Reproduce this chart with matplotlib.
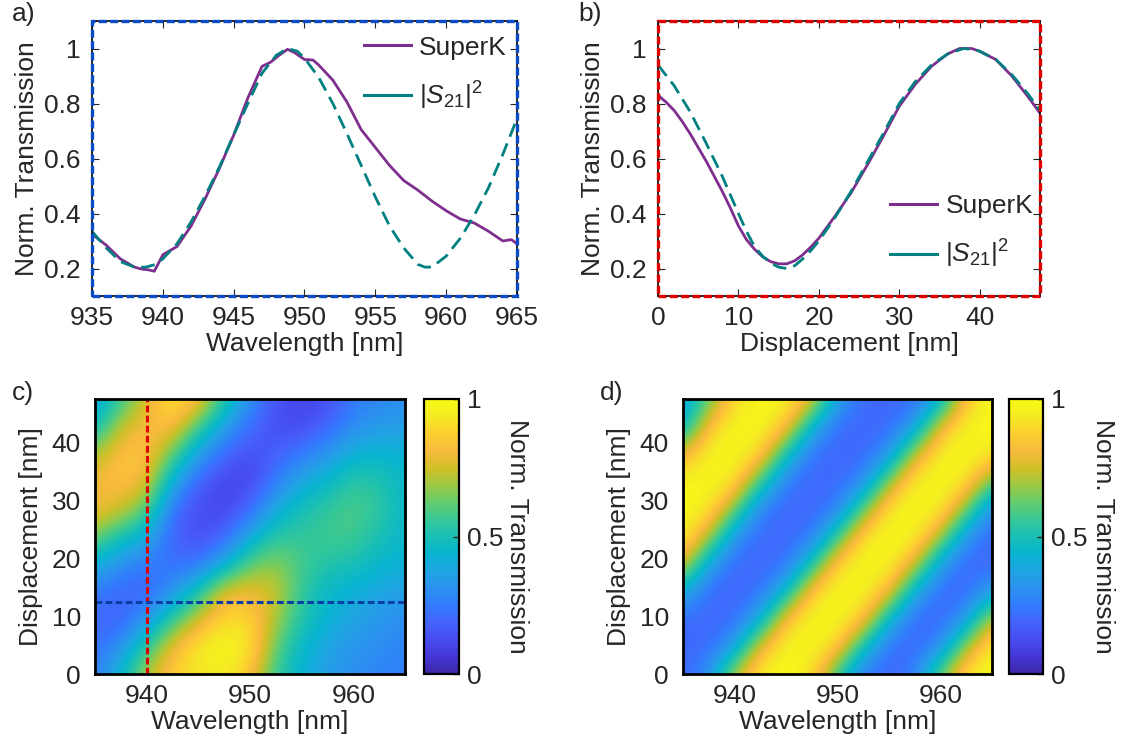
import numpy as np
import matplotlib
matplotlib.use("Agg")
import matplotlib.pyplot as plt
from matplotlib.colors import LinearSegmentedColormap
from matplotlib.lines import Line2D
from matplotlib.patches import Rectangle

# --- line cuts -------------------------------------------------------------
# a) wavelength sweep at fixed displacement
wl_superk = [935, 936, 937, 938, 938.5, 939, 939.4, 940, 941, 942, 943, 944, 945, 946,
             947, 947.6, 948.2, 948.8, 949.3, 950, 950.6, 951, 952, 953, 954, 955,
             956, 957, 958, 959, 960, 961, 962, 963, 964, 964.6, 965]
tr_superk_wl = [0.325, 0.285, 0.235, 0.205, 0.198, 0.195, 0.19, 0.25, 0.28, 0.355, 0.455,
                0.565, 0.685, 0.82, 0.935, 0.95, 0.975, 0.997, 0.985, 0.96, 0.958, 0.94,
                0.885, 0.805, 0.705, 0.64, 0.575, 0.52, 0.485, 0.445, 0.41, 0.38, 0.365,
                0.335, 0.30, 0.305, 0.29]
wl_s21 = [935, 936, 937, 938, 938.8, 939.5, 940, 941, 942, 943, 944, 945, 946, 947, 948,
          948.8, 949.5, 950, 951, 952, 953, 954, 955, 956, 957, 958, 958.5, 959, 960,
          961, 962, 963, 964, 965]
tr_s21_wl = [0.335, 0.275, 0.225, 0.205, 0.205, 0.215, 0.235, 0.29, 0.37, 0.465, 0.57,
             0.685, 0.80, 0.91, 0.975, 1.0, 0.99, 0.965, 0.895, 0.80, 0.69, 0.575, 0.46,
             0.355, 0.275, 0.215, 0.205, 0.205, 0.245, 0.31, 0.395, 0.495, 0.615, 0.745]

# b) displacement sweep at fixed wavelength
d_superk = [0, 1, 2, 3, 4, 5, 6, 7, 8, 9, 10, 11, 12, 13, 14, 15, 16, 17, 18, 19, 20,
            22, 24, 26, 28, 30, 32, 34, 36, 37.5, 39, 40, 42, 44, 46, 47.5]
tr_superk_d = [0.83, 0.805, 0.775, 0.735, 0.69, 0.64, 0.59, 0.535, 0.48, 0.42, 0.355,
               0.305, 0.27, 0.243, 0.225, 0.217, 0.217, 0.228, 0.25, 0.278, 0.31, 0.39,
               0.475, 0.575, 0.68, 0.79, 0.87, 0.935, 0.98, 1.0, 1.0, 0.99, 0.96, 0.90,
               0.825, 0.765]
d_s21 = [0, 2, 4, 6, 8, 10, 11, 12, 13, 14, 15, 16, 17, 18, 19, 20, 22, 24, 26, 28, 30,
         32, 34, 36, 38, 39.5, 40, 42, 44, 46, 47.5]
tr_s21_d = [0.94, 0.865, 0.77, 0.655, 0.535, 0.40, 0.335, 0.28, 0.245, 0.22, 0.205, 0.20,
            0.21, 0.235, 0.265, 0.30, 0.385, 0.48, 0.585, 0.69, 0.80, 0.88, 0.94, 0.98,
            1.0, 0.995, 0.99, 0.96, 0.905, 0.835, 0.775]

# cut positions marked in the measured map
cut_wavelength = 940.0
cut_displacement = 12.5

# --- maps (rows: displacement, columns: wavelength) ---------------------------
map_wl = [935, 937.5, 940, 942.5, 945, 947.5, 950, 952.5, 955, 957.5, 960, 962.5, 965]
map_disp = [0, 4.75, 9.5, 14.25, 19, 23.75, 28.5, 33.25, 38, 42.75, 47.5]

map_measured = [
    [0.25, 0.45, 0.72, 0.88, 0.93, 0.95, 0.85, 0.55, 0.42, 0.35, 0.30, 0.28, 0.26],
    [0.22, 0.30, 0.55, 0.80, 0.95, 1.00, 0.95, 0.62, 0.45, 0.37, 0.33, 0.30, 0.27],
    [0.20, 0.18, 0.32, 0.55, 0.75, 0.90, 0.90, 0.70, 0.52, 0.43, 0.37, 0.33, 0.30],
    [0.25, 0.20, 0.18, 0.32, 0.50, 0.80, 0.80, 0.75, 0.55, 0.45, 0.42, 0.38, 0.35],
    [0.42, 0.30, 0.25, 0.22, 0.22, 0.40, 0.62, 0.68, 0.58, 0.52, 0.50, 0.45, 0.42],
    [0.65, 0.50, 0.40, 0.18, 0.13, 0.18, 0.40, 0.55, 0.55, 0.58, 0.58, 0.50, 0.45],
    [0.82, 0.75, 0.62, 0.22, 0.12, 0.10, 0.20, 0.40, 0.50, 0.55, 0.60, 0.55, 0.45],
    [0.80, 0.85, 0.80, 0.40, 0.18, 0.10, 0.10, 0.25, 0.40, 0.45, 0.55, 0.52, 0.45],
    [0.70, 0.85, 0.85, 0.62, 0.35, 0.20, 0.12, 0.18, 0.25, 0.33, 0.42, 0.45, 0.42],
    [0.45, 0.75, 0.82, 0.85, 0.58, 0.35, 0.22, 0.12, 0.12, 0.20, 0.30, 0.35, 0.35],
    [0.35, 0.55, 0.75, 0.95, 0.85, 0.55, 0.30, 0.15, 0.10, 0.12, 0.25, 0.28, 0.30],
]

map_model = [
    [0.20, 0.30, 0.74, 0.97, 1.00, 0.93, 0.54, 0.22, 0.20, 0.25, 0.64, 0.95, 1.00],
    [0.20, 0.20, 0.34, 0.80, 0.98, 0.99, 0.90, 0.48, 0.21, 0.20, 0.28, 0.70, 0.97],
    [0.21, 0.20, 0.20, 0.39, 0.85, 0.99, 0.99, 0.88, 0.43, 0.20, 0.20, 0.32, 0.76],
    [0.40, 0.20, 0.20, 0.21, 0.44, 0.88, 0.99, 0.98, 0.84, 0.38, 0.20, 0.20, 0.36],
    [0.81, 0.35, 0.20, 0.20, 0.21, 0.50, 0.91, 0.99, 0.98, 0.78, 0.33, 0.20, 0.20],
    [0.97, 0.73, 0.30, 0.20, 0.20, 0.22, 0.56, 0.93, 1.00, 0.97, 0.72, 0.29, 0.20],
    [1.00, 0.95, 0.65, 0.25, 0.20, 0.20, 0.24, 0.62, 0.95, 1.00, 0.96, 0.66, 0.26],
    [0.97, 1.00, 0.94, 0.57, 0.23, 0.20, 0.20, 0.27, 0.68, 0.96, 1.00, 0.94, 0.60],
    [0.79, 0.98, 0.99, 0.91, 0.49, 0.21, 0.20, 0.20, 0.30, 0.74, 0.97, 1.00, 0.93],
    [0.40, 0.86, 0.99, 0.99, 0.87, 0.42, 0.20, 0.20, 0.20, 0.34, 0.80, 0.98, 0.99],
    [0.35, 0.60, 0.90, 0.99, 0.98, 0.82, 0.36, 0.20, 0.20, 0.20, 0.39, 0.85, 0.99],
]

# parula-like colour map
parula = LinearSegmentedColormap.from_list("parula", [
    (0.2422, 0.1504, 0.6603), (0.2706, 0.2147, 0.8364), (0.2813, 0.3006, 0.9414),
    (0.2699, 0.3892, 0.9906), (0.1963, 0.4847, 0.9892), (0.1687, 0.5703, 0.9359),
    (0.1248, 0.6459, 0.8883), (0.0297, 0.7082, 0.8163), (0.0964, 0.7500, 0.7120),
    (0.2161, 0.7843, 0.5923), (0.3909, 0.8029, 0.4354), (0.6174, 0.7876, 0.2612),
    (0.8203, 0.7498, 0.1535), (0.9728, 0.7298, 0.2394), (0.9892, 0.8136, 0.1885),
    (0.9597, 0.9135, 0.1423), (0.9769, 0.9839, 0.0805)])

PURPLE = "#7E2F8E"
TEAL = "#008080"
FRAME_BLUE = "#0B4BC8"
FRAME_RED = "#E00000"
TXT = "#262626"
D_MAX = 47.5

plt.rcParams["font.family"] = ["Liberation Sans", "DejaVu Sans"]
plt.rcParams["font.size"] = 19
plt.rcParams["mathtext.fontset"] = "custom"
plt.rcParams["mathtext.rm"] = "Liberation Sans"
plt.rcParams["mathtext.it"] = "Liberation Sans:italic"
plt.rcParams["text.color"] = TXT
plt.rcParams["axes.labelcolor"] = TXT
plt.rcParams["xtick.color"] = TXT
plt.rcParams["ytick.color"] = TXT

W, H = 1130, 744
fig = plt.figure(figsize=(W / 100, H / 100), dpi=100)


def box(x0, y0, x1, y1):
    # pixel box (top-left origin) -> figure fraction rectangle
    return [x0 / W, 1 - y1 / H, (x1 - x0) / W, (y1 - y0) / H]


def line_axes(ax, frame_color):
    ax.tick_params(direction="in", length=5, width=0.8, top=True, right=True, pad=7)
    ax.tick_params(axis="y", pad=8)
    for s in ax.spines.values():
        s.set_linewidth(1.2)
    ax.set_ylim(0.1, 1.1)
    ax.set_yticks([0.2, 0.4, 0.6, 0.8, 1.0])
    ax.set_yticklabels(["0.2", "0.4", "0.6", "0.8", "1"])
    ax.set_ylabel("Norm. Transmission", labelpad=4)
    ax.add_patch(Rectangle((0, 0), 1, 1, transform=ax.transAxes, fill=False,
                           ec=frame_color, lw=2.4, ls=(0, (2.4, 1.0)),
                           clip_on=False, zorder=5))


handles = [Line2D([], [], color=PURPLE, lw=2.2), Line2D([], [], color=TEAL, lw=2.2)]
labels = ["SuperK", r"$|S_{\mathit{21}}|^2$"]
legend_kw = dict(frameon=False, handlelength=1.8, handletextpad=0.3,
                 labelspacing=0.75, borderaxespad=0.15)

# a) transmission vs wavelength
ax_a = fig.add_axes(box(92, 21, 517, 296))
ax_a.plot(wl_superk, tr_superk_wl, color=PURPLE, lw=2.0)
ax_a.plot(wl_s21, tr_s21_wl, color=TEAL, lw=2.0, ls=(0, (5, 2.6)))
ax_a.set_xlim(935, 965)
ax_a.set_xticks(np.arange(935, 966, 5))
ax_a.set_xlabel("Wavelength [nm]", labelpad=2)
line_axes(ax_a, FRAME_BLUE)
ax_a.legend(handles, labels, loc="upper right", bbox_to_anchor=(1.01, 1.0), **legend_kw)

# b) transmission vs displacement
ax_b = fig.add_axes(box(658, 21, 1040, 296))
ax_b.plot(d_superk, tr_superk_d, color=PURPLE, lw=2.0)
ax_b.plot(d_s21, tr_s21_d, color=TEAL, lw=2.0, ls=(0, (5, 2.6)))
ax_b.set_xlim(0, D_MAX)
ax_b.set_xticks([0, 10, 20, 30, 40])
ax_b.set_xlabel("Displacement [nm]", labelpad=2)
line_axes(ax_b, FRAME_RED)
ax_b.legend(handles, labels, loc="lower right", bbox_to_anchor=(1.02, 0.04), **legend_kw)


def map_axes(rect, cbar_rect, grid, label_x):
    ax = fig.add_axes(box(*rect))
    dwl = map_wl[1] - map_wl[0]
    dd = map_disp[1] - map_disp[0]
    ext = [map_wl[0] - dwl / 2, map_wl[-1] + dwl / 2,
           map_disp[0] - dd / 2, map_disp[-1] + dd / 2]
    im = ax.imshow(np.array(grid), origin="lower", extent=ext, aspect="auto",
                   interpolation="bicubic", cmap=parula, vmin=0, vmax=1, zorder=1)
    ax.set_axisbelow(True)
    ax.set_xlim(935, 965)
    ax.set_ylim(0, D_MAX)
    ax.set_xticks([940, 950, 960])
    ax.set_yticks([0, 10, 20, 30, 40])
    ax.tick_params(direction="in", length=5, width=0.8, pad=7)
    ax.tick_params(axis="y", pad=10)
    for s in ax.spines.values():
        s.set_linewidth(2.0)
        s.set_zorder(4)
    ax.set_xlabel("Wavelength [nm]", labelpad=2)
    ax.set_ylabel("Displacement [nm]", labelpad=6)

    cax = fig.add_axes(box(*cbar_rect))
    cb = fig.colorbar(im, cax=cax, ticks=[0, 0.5, 1])
    cb.ax.set_yticklabels(["0", "0.5", "1"])
    cb.ax.tick_params(direction="in", length=4, width=1.0, pad=6)
    cb.outline.set_linewidth(1.6)
    fig.text(label_x / W, 1 - 536 / H, "Norm. Transmission", rotation=270,
             ha="center", va="center")
    return ax


# c) measured map with the two cut lines
ax_c = map_axes((95, 399, 405, 674), (424, 399, 459, 674), map_measured, 517)
ax_c.axvline(cut_wavelength, color=FRAME_RED, lw=2.2, ls=(0, (2.2, 1.1)), zorder=3)
ax_c.axhline(cut_displacement, color="#0A3FA8", lw=2.2, ls=(0, (2.2, 1.1)), zorder=3)

# d) |S21|^2 model map
ax_d = map_axes((683, 399, 992, 674), (1009, 399, 1043, 674), map_model, 1103)

for txt, x, y in [("a)", 12, 14), ("b)", 578, 14), ("c)", 12, 393), ("d)", 600, 393)]:
    fig.text(x / W, 1 - y / H, txt, ha="left", va="center")

fig.savefig("out.png", dpi=100)
